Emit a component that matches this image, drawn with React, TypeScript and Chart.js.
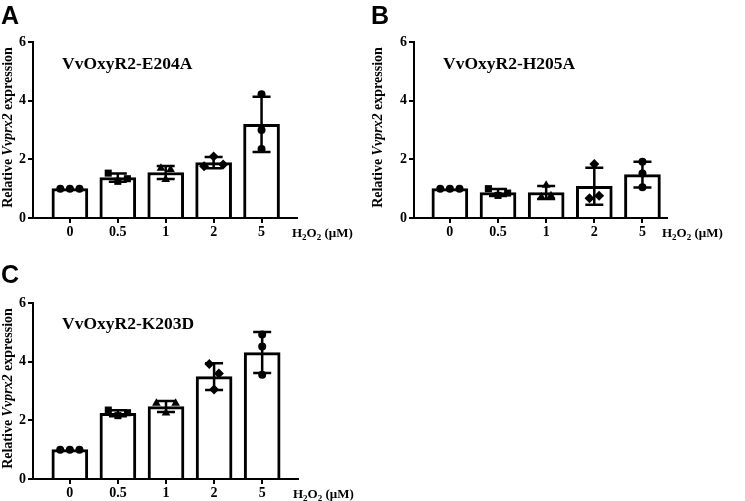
import React, { useEffect, useRef } from "react";
import { Chart, registerables } from "chart.js";

Chart.register(...registerables);

// ---------- data ----------
const doses = ["0", "0.5", "1", "2", "5"];
const yTickValues = [0, 2, 4, 6];
const markerShapes = ["circle", "rect", "triangle", "rectRot", "circle"];

const titleA = "VvOxyR2-E204A";
const meanA = [1.0, 1.38, 1.55, 1.89, 3.19];
const sdA = [0, 0.14, 0.22, 0.19, 0.94];
const pointsA = [
  [1.0, 1.0, 1.0],
  [1.53, 1.25, 1.34],
  [1.31, 1.7, 1.65],
  [1.76, 2.1, 1.82],
  [4.22, 3.0, 2.35],
];

const titleB = "VvOxyR2-H205A";
const meanB = [1.0, 0.87, 0.87, 1.08, 1.48];
const sdB = [0, 0.12, 0.22, 0.63, 0.44];
const pointsB = [
  [1.0, 1.0, 1.0],
  [1.0, 0.77, 0.85],
  [0.72, 1.12, 0.76],
  [0.67, 1.84, 0.76],
  [1.92, 1.52, 1.05],
];

const titleC = "VvOxyR2-K203D";
const meanC = [1.0, 2.24, 2.47, 3.49, 4.31];
const sdC = [0, 0.1, 0.19, 0.46, 0.7];
const pointsC = [
  [1.0, 1.0, 1.0],
  [2.35, 2.16, 2.26],
  [2.58, 2.25, 2.58],
  [3.92, 3.05, 3.6],
  [4.93, 4.52, 3.55],
];

// ---------- styles ----------
const SERIF = "'Liberation Serif', 'Times New Roman', Times, serif";
const SANS = "'Liberation Sans', Arial, sans-serif";
const markerRadius: Record<string, number> = { circle: 4, rect: 5, triangle: 5, rectRot: 5 };

// beeswarm-like horizontal spread for points that overlap vertically
function spread(values: number[]): number[] {
  const parent = values.map((_, i) => i);
  const find = (i: number): number => (parent[i] === i ? i : (parent[i] = find(parent[i])));
  for (let i = 0; i < values.length; i++)
    for (let j = i + 1; j < values.length; j++)
      if (Math.abs(values[i] - values[j]) < 0.335) parent[find(i)] = find(j);
  const groups: Record<number, number[]> = {};
  values.forEach((_, i) => {
    const r = find(i);
    (groups[r] = groups[r] || []).push(i);
  });
  const off = values.map(() => 0);
  Object.values(groups).forEach((g) => {
    g.forEach((idx, k) => {
      off[idx] = (k - (g.length - 1) / 2) * 0.2;
    });
  });
  return off;
}

type PanelProps = {
  letter: string;
  title: string;
  means: number[];
  sds: number[];
  points: number[][];
  left: number;
  top: number;
  width: number;
  height: number;
  area: { l: number; r: number; t: number; b: number };
  xMin: number;
  xMax: number;
  letterY: number;
  titleDy: number;
};

function Panel(p: PanelProps) {
  const ref = useRef<HTMLCanvasElement | null>(null);
  useEffect(() => {
    if (!ref.current) return;
    const pts: { x: number; y: number }[] = [];
    const styles: string[] = [];
    p.points.forEach((arr, i) => {
      const off = spread(arr);
      arr.forEach((v, k) => {
        pts.push({ x: i + off[k], y: v });
        styles.push(markerShapes[i]);
      });
    });

    const tickFont = { family: SERIF, weight: "bold" as const, size: 14 };

    const overlay = {
      id: "overlay" + p.letter,
      afterDatasetDraw(chart: any, args: any) {
        if (args.index !== 0) return;
        const { ctx } = chart;
        const xs = chart.scales.x;
        const ys = chart.scales.y;
        ctx.save();
        ctx.strokeStyle = "#000";
        ctx.lineWidth = 2.5;
        p.means.forEach((m, i) => {
          const sd = p.sds[i];
          if (!sd) return;
          const px = xs.getPixelForValue(i);
          const t = ys.getPixelForValue(m + sd);
          const b = ys.getPixelForValue(m - sd);
          ctx.beginPath();
          ctx.moveTo(px, t);
          ctx.lineTo(px, b);
          ctx.moveTo(px - 9, t);
          ctx.lineTo(px + 9, t);
          ctx.moveTo(px - 9, b);
          ctx.lineTo(px + 9, b);
          ctx.stroke();
        });
        ctx.restore();
      },
      afterDraw(chart: any) {
        const { ctx, chartArea } = chart;
        ctx.save();
        ctx.fillStyle = "#000";
        // panel letter
        ctx.font = `bold 25px ${SANS}`;
        ctx.textBaseline = "alphabetic";
        ctx.textAlign = "left";
        ctx.fillText(p.letter, 1, p.letterY);
        // title
        ctx.font = `bold 17.5px ${SERIF}`;
        ctx.fillText(p.title, chartArea.left + 29, chartArea.top + p.titleDy);
        // y title (mixed italic)
        const segs = [
          { t: "Relative ", f: `bold 14px ${SERIF}` },
          { t: "Vvprx2", f: `italic bold 14px ${SERIF}` },
          { t: " expression", f: `bold 14px ${SERIF}` },
        ];
        let total = 0;
        segs.forEach((s) => {
          ctx.font = s.f;
          total += ctx.measureText(s.t).width;
        });
        ctx.translate(8, (chartArea.top + chartArea.bottom) / 2 - 2.5);
        ctx.rotate(-Math.PI / 2);
        ctx.textBaseline = "middle";
        let cx = -total / 2;
        segs.forEach((s) => {
          ctx.font = s.f;
          ctx.fillText(s.t, cx, 0);
          cx += ctx.measureText(s.t).width;
        });
        ctx.setTransform(1, 0, 0, 1, 0, 0);
        // x unit label  H2O2 (μM)
        ctx.textBaseline = "alphabetic";
        const base = chartArea.bottom + 18.5;
        let hx = chartArea.right - 5;
        const big = `bold 13px ${SERIF}`;
        const small = `bold 9px ${SERIF}`;
        const parts = [
          { t: "H", f: big, dy: 0 },
          { t: "2", f: small, dy: 3 },
          { t: "O", f: big, dy: 0 },
          { t: "2", f: small, dy: 3 },
          { t: " (μM)", f: big, dy: 0 },
        ];
        parts.forEach((s) => {
          ctx.font = s.f;
          ctx.fillText(s.t, hx, base + s.dy);
          hx += ctx.measureText(s.t).width;
        });
        ctx.restore();
      },
    };

    const chart = new Chart(ref.current, {
      type: "bar",
      data: {
        datasets: [
          {
            type: "bar",
            data: p.means.map((m, i) => ({ x: i, y: m })),
            backgroundColor: "#ffffff",
            borderColor: "#000000",
            borderWidth: 3,
            borderSkipped: "start",
            barThickness: 36,
            order: 2,
          } as any,
          {
            type: "scatter",
            data: pts,
            pointStyle: styles,
            pointRadius: styles.map((s) => markerRadius[s]),
            pointBackgroundColor: "#000",
            pointBorderColor: "#000",
            pointBorderWidth: 0,
            order: 1,
          } as any,
        ],
      },
      options: {
        animation: false,
        responsive: false,
        maintainAspectRatio: false,
        layout: { padding: { left: 0, top: p.area.t, right: p.width - p.area.r, bottom: 0 } },
        plugins: { legend: { display: false }, tooltip: { enabled: false } },
        scales: {
          x: {
            type: "linear",
            offset: false,
            min: p.xMin,
            max: p.xMax,
            afterBuildTicks: (s: any) => {
              s.ticks = doses.map((_, i) => ({ value: i }));
            },
            afterFit: (s: any) => {
              s.height = p.height - p.area.b;
            },
            ticks: {
              callback: (v: any) => doses[v as number],
              font: tickFont,
              color: "#000",
              padding: 1,
              autoSkip: false,
              maxRotation: 0,
            },
            grid: { offset: false, drawOnChartArea: false, tickLength: 5, color: "#000", lineWidth: 2 },
            border: { color: "#000", width: 2 },
          },
          y: {
            type: "linear",
            min: 0,
            max: 6,
            afterBuildTicks: (s: any) => {
              s.ticks = yTickValues.map((v) => ({ value: v }));
            },
            afterFit: (s: any) => {
              s.width = p.area.l;
            },
            ticks: { font: tickFont, color: "#000", padding: 2 },
            grid: { drawOnChartArea: false, tickLength: 5, color: "#000", lineWidth: 2 },
            border: { color: "#000", width: 2 },
          },
        },
      } as any,
      plugins: [overlay],
    });
    return () => chart.destroy();
  }, []);
  return (
    <canvas
      ref={ref}
      width={p.width}
      height={p.height}
      style={{ position: "absolute", left: p.left, top: p.top, width: p.width, height: p.height }}
    />
  );
}

export default function App() {
  return (
    <div
      style={{
        position: "absolute",
        left: 0,
        top: 0,
        width: 745,
        height: 501,
        overflow: "hidden",
        background: "#fff",
      }}
    >
      <Panel
        letter="A"
        title={titleA}
        means={meanA}
        sds={sdA}
        points={pointsA}
        left={0}
        top={0}
        width={370}
        height={250}
        area={{ l: 33, r: 297, t: 42, b: 218 }}
        xMin={-0.77}
        xMax={4.74}
        letterY={24}
        titleDy={27}
      />
      <Panel
        letter="B"
        title={titleB}
        means={meanB}
        sds={sdB}
        points={pointsB}
        left={370}
        top={0}
        width={375}
        height={250}
        area={{ l: 44, r: 297, t: 42, b: 218 }}
        xMin={-0.745}
        xMax={4.51}
        letterY={24}
        titleDy={27}
      />
      <Panel
        letter="C"
        title={titleC}
        means={meanC}
        sds={sdC}
        points={pointsC}
        left={0}
        top={250}
        width={370}
        height={251}
        area={{ l: 33, r: 298, t: 53, b: 229 }}
        xMin={-0.766}
        xMax={4.745}
        letterY={33}
        titleDy={25.5}
      />
    </div>
  );
}
